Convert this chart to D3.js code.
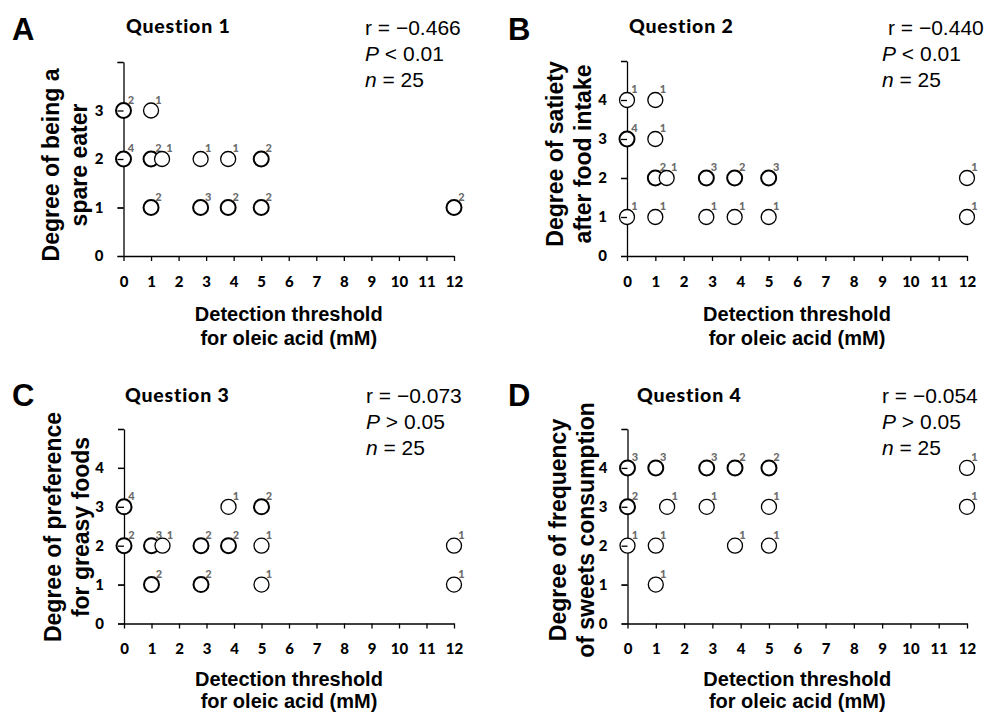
<!DOCTYPE html>
<html lang="en">
<head>
<meta charset="utf-8">
<title>Oleic acid threshold vs questionnaire</title>
<script src="https://d3js.org/d3.v7.min.js"></script>
<style>
  body { margin: 0; background: #fff; }
  .arial { font-family: "Liberation Sans", Arial, sans-serif; }
</style>
</head>
<body>
<div id="chart"></div>
<script>
// ---- data ----
var xTicks = [0, 1, 2, 3, 4, 5, 6, 7, 8, 9, 10, 11, 12];
var panelLetters = ["A", "B", "C", "D"];
var questions = ["Question 1", "Question 2", "Question 3", "Question 4"];
var yTitles = [
  ["Degree of being a", "spare eater"],
  ["Degree of satiety", "after food intake"],
  ["Degree of preference", "for greasy foods"],
  ["Degree of frequency", "of sweets consumption"]
];
var xTitle = ["Detection threshold", "for oleic acid (mM)"];
var yMax = [4, 5, 5, 5];
var rValues = ["\u22120.466", "\u22120.440", "\u22120.073", "\u22120.054"];
var pValues = ["< 0.01", "< 0.01", "> 0.05", "> 0.05"];
var nValues = [25, 25, 25, 25];

// [threshold mM, score, number of subjects]
var q1Points = [
  [0, 3, 2], [1, 3, 1],
  [0, 2, 4], [1, 2, 2], [1.4, 2, 1], [2.8, 2, 1], [3.8, 2, 1], [5, 2, 2],
  [1, 1, 2], [2.8, 1, 3], [3.8, 1, 2], [5, 1, 2], [12, 1, 2]
];
var q2Points = [
  [0, 4, 1], [1, 4, 1],
  [0, 3, 4], [1, 3, 1],
  [1, 2, 2], [1.4, 2, 1], [2.8, 2, 3], [3.8, 2, 2], [5, 2, 3], [12, 2, 1],
  [0, 1, 1], [1, 1, 1], [2.8, 1, 1], [3.8, 1, 1], [5, 1, 1], [12, 1, 1]
];
var q3Points = [
  [0, 3, 4], [3.8, 3, 1], [5, 3, 2],
  [0, 2, 2], [1, 2, 3], [1.4, 2, 1], [2.8, 2, 2], [3.8, 2, 2], [5, 2, 1], [12, 2, 1],
  [1, 1, 2], [2.8, 1, 2], [5, 1, 1], [12, 1, 1]
];
var q4Points = [
  [0, 4, 3], [1, 4, 3], [2.8, 4, 3], [3.8, 4, 2], [5, 4, 2], [12, 4, 1],
  [0, 3, 2], [1.4, 3, 1], [2.8, 3, 1], [5, 3, 1], [12, 3, 1],
  [0, 2, 1], [1, 2, 1], [3.8, 2, 1], [5, 2, 1],
  [1, 1, 1]
];
var allPoints = [q1Points, q2Points, q3Points, q4Points];

// ---- layout of the four panels ----
var layout = [
  {x0: 123.5, x1: 454, y0: 256, yTop: 62, lx: 12, ly: 40, tx: 126, ty: 33, sx: 365, rdx: 0, sy: 35, yl1: -65, yl2: -37, ycy: 165, xt1: 65, xt2: 89},
  {x0: 627, x1: 967, y0: 256, yTop: 61, lx: 508, ly: 40, tx: 629, ty: 33, sx: 882, rdx: 6, sy: 35, yl1: -64, yl2: -36, ycy: 154, xt1: 65, xt2: 89},
  {x0: 124, x1: 454, y0: 623.5, yTop: 429, lx: 12, ly: 406, tx: 125, ty: 402, sx: 366, rdx: 0, sy: 403, yl1: -63, yl2: -35, ycy: 527, xt1: 62, xt2: 84},
  {x0: 627.5, x1: 967, y0: 623.5, yTop: 429, lx: 508, ly: 406, tx: 637, ty: 402, sx: 882, rdx: 0, sy: 403, yl1: -62, yl2: -34, ycy: 530, xt1: 62, xt2: 84}
];

var svg = d3.select("#chart").append("svg")
  .attr("width", 987)
  .attr("height", 713);

layout.forEach(function(L, i) {
  var g = svg.append("g");

  var x = d3.scaleLinear().domain([0, 12]).range([L.x0, L.x1]);
  var y = d3.scaleLinear().domain([0, yMax[i]]).range([L.y0, L.yTop]);
  var yTicks = d3.range(0, yMax[i] + 1);

  // axes (domain + labels) under the circles
  var xAxis = d3.axisBottom(x).tickValues(xTicks).tickSize(5).tickSizeOuter(0).tickPadding(15);
  var yAxis = d3.axisLeft(y).tickValues(yTicks).tickSize(6).tickSizeOuter(0).tickPadding(14)
    .tickFormat(function(d) { return d === yMax[i] ? "" : d; });

  g.append("g").attr("transform", "translate(0," + L.y0 + ")").call(xAxis);
  g.append("g").attr("transform", "translate(" + L.x0 + ",0)").call(yAxis);
  g.selectAll(".domain, .tick line").attr("stroke", "#000").attr("stroke-width", 1.3);
  g.selectAll(".tick text")
    .attr("font-family", "Lato, sans-serif")
    .attr("font-weight", "900")
    .attr("font-size", 15)
    .attr("fill", "#000");

  // circles, white filled
  var pts = g.selectAll(".pt").data(allPoints[i]).enter().append("g").attr("class", "pt");
  pts.append("circle")
    .attr("cx", function(d) { return x(d[0]); })
    .attr("cy", function(d) { return y(d[1]); })
    .attr("r", 7.5)
    .attr("fill", "#fff")
    .attr("stroke", "#000")
    .attr("stroke-width", function(d) { return d[2] > 1 ? 2 : 1.3; });
  pts.append("text")
    .attr("x", function(d) { return x(d[0]) + 7.5; })
    .attr("y", function(d) { return y(d[1]) - 7; })
    .attr("text-anchor", "middle")
    .attr("font-family", "Lato, sans-serif")
    .attr("font-weight", "900")
    .attr("font-size", 11)
    .attr("fill", "#6a6a6a")
    .text(function(d) { return d[2]; });

  // y tick marks drawn again on top of the circles
  var yTickOnly = d3.axisLeft(y).tickValues(yTicks).tickSize(6).tickFormat("");
  var top = g.append("g").attr("transform", "translate(" + L.x0 + ",0)").call(yTickOnly);
  top.select(".domain").remove();
  top.selectAll(".tick line").attr("stroke", "#000").attr("stroke-width", 1.3);

  // panel letter
  g.append("text").attr("class", "arial")
    .attr("x", L.lx).attr("y", L.ly)
    .attr("font-size", 31).attr("font-weight", "bold")
    .text(panelLetters[i]);

  // question title
  g.append("text")
    .attr("x", L.tx).attr("y", L.ty)
    .attr("font-family", "Lato, sans-serif")
    .attr("font-size", 19.5).attr("font-weight", "900")
    .attr("letter-spacing", 0.8)
    .text(questions[i]);

  // stats
  var st = g.append("text").attr("class", "arial").attr("font-size", 21);
  st.append("tspan").attr("x", L.sx + L.rdx).attr("y", L.sy).text("r = " + rValues[i]);
  var p = st.append("tspan").attr("x", L.sx).attr("y", L.sy + 26);
  p.append("tspan").attr("font-style", "italic").text("P");
  p.append("tspan").text(" " + pValues[i]);
  var n = st.append("tspan").attr("x", L.sx).attr("y", L.sy + 52);
  n.append("tspan").attr("font-style", "italic").text("n");
  n.append("tspan").text(" = " + nValues[i]);

  // y title, two rotated lines
  [L.yl1, L.yl2].forEach(function(off, k) {
    g.append("text").attr("class", "arial")
      .attr("transform", "translate(" + (L.x0 + off) + "," + L.ycy + ") rotate(-90)")
      .attr("text-anchor", "middle")
      .attr("font-size", 23).attr("font-weight", "bold")
      .text(yTitles[i][k]);
  });

  // x title
  [L.xt1, L.xt2].forEach(function(off, k) {
    g.append("text").attr("class", "arial")
      .attr("x", (L.x0 + L.x1) / 2).attr("y", L.y0 + off)
      .attr("text-anchor", "middle")
      .attr("font-size", 20).attr("font-weight", "bold")
      .text(xTitle[k]);
  });
});
</script>
</body>
</html>
